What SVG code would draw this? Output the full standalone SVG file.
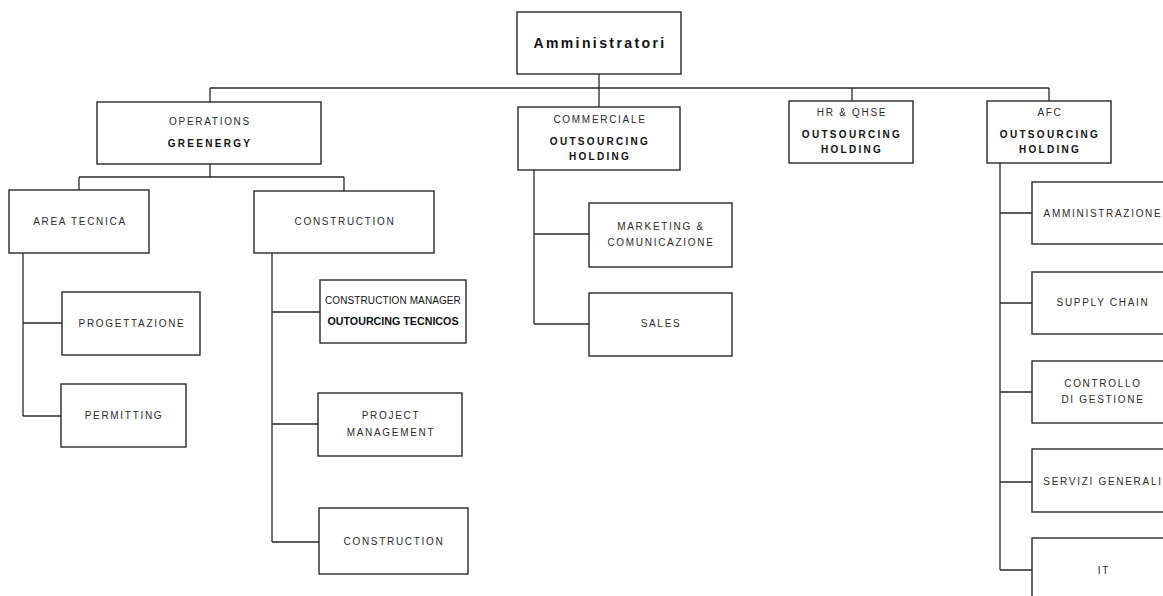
<svg xmlns="http://www.w3.org/2000/svg" width="1163" height="596" viewBox="0 0 1163 596">
<style>
.b{fill:#fff;stroke:#2a2a2a;stroke-width:1.4}
.c{fill:none;stroke:#2a2a2a;stroke-width:1.3}
text{font-family:"Liberation Sans",Arial,sans-serif;text-anchor:middle;fill:#2b2b2b}
.r{font-size:10px;letter-spacing:1.7px}
.k{font-size:10px;font-weight:bold;letter-spacing:2.3px;fill:#111}
.t{font-size:14px;font-weight:bold;letter-spacing:2.4px;fill:#111}
.p{font-size:10px;letter-spacing:0.1px;fill:#111}
.pk{font-size:10.7px;font-weight:bold;fill:#111}
</style>
<rect width="1163" height="596" fill="#fff"/>
<g id="connectors">
<path class="c" d="M210 88H1049M599 74V107M210 88V102M852 88V101M1049 88V101"/>
<path class="c" d="M210 164V177M79 177H344M79 177V190M344 177V191"/>
<path class="c" d="M23 253V416M23 323H62M23 416H61"/>
<path class="c" d="M272 253V542M272 312H320M272 424H318M272 542H319"/>
<path class="c" d="M534 170V324M534 234H589M534 324H589"/>
<path class="c" d="M1000 163V570M1000 213H1032M1000 303H1032M1000 392H1032M1000 482H1032M1000 570H1032"/>
</g>
<g id="amministratori"><rect class="b" x="517" y="12" width="164" height="62"/><text class="t" x="600" y="48">Amministratori</text></g>
<g id="operations"><rect class="b" x="97" y="102" width="224" height="62"/><text class="r" x="210" y="125">OPERATIONS</text><text class="k" x="210" y="147">GREENERGY</text></g>
<g id="commerciale"><rect class="b" x="518" y="107" width="162" height="63"/><text class="r" x="600" y="123">COMMERCIALE</text><text class="k" x="600" y="145">OUTSOURCING</text><text class="k" x="600" y="160">HOLDING</text></g>
<g id="hr"><rect class="b" x="789" y="101" width="124" height="62"/><text class="r" x="852" y="116">HR &amp; QHSE</text><text class="k" x="852" y="138">OUTSOURCING</text><text class="k" x="852" y="153">HOLDING</text></g>
<g id="afc"><rect class="b" x="987" y="101" width="124" height="62"/><text class="r" x="1050" y="116">AFC</text><text class="k" x="1050" y="138">OUTSOURCING</text><text class="k" x="1050" y="153">HOLDING</text></g>
<g id="area-tecnica"><rect class="b" x="9" y="190" width="140" height="63"/><text class="r" x="80" y="225">AREA TECNICA</text></g>
<g id="construction"><rect class="b" x="254" y="191" width="180" height="62"/><text class="r" x="345" y="225">CONSTRUCTION</text></g>
<g id="progettazione"><rect class="b" x="62" y="292" width="138" height="63"/><text class="r" x="132" y="327">PROGETTAZIONE</text></g>
<g id="permitting"><rect class="b" x="61" y="384" width="125" height="63"/><text class="r" x="124" y="419">PERMITTING</text></g>
<g id="construction-manager"><rect class="b" x="320" y="280" width="146" height="63"/><text class="p" x="393" y="304">CONSTRUCTION MANAGER</text><text class="pk" x="393" y="325">OUTOURCING TECNICOS</text></g>
<g id="project-management"><rect class="b" x="318" y="393" width="144" height="63"/><text class="r" x="391" y="419">PROJECT</text><text class="r" x="391" y="436">MANAGEMENT</text></g>
<g id="construction-2"><rect class="b" x="319" y="508" width="149" height="66"/><text class="r" x="394" y="545">CONSTRUCTION</text></g>
<g id="marketing"><rect class="b" x="589" y="203" width="143" height="64"/><text class="r" x="661" y="230">MARKETING &amp;</text><text class="r" x="661" y="246">COMUNICAZIONE</text></g>
<g id="sales"><rect class="b" x="589" y="293" width="143" height="63"/><text class="r" x="661" y="327">SALES</text></g>
<g id="amministrazione"><rect class="b" x="1032" y="182" width="145" height="62"/><text class="r" x="1103" y="217">AMMINISTRAZIONE</text></g>
<g id="supply-chain"><rect class="b" x="1032" y="272" width="145" height="62"/><text class="r" x="1103" y="306">SUPPLY CHAIN</text></g>
<g id="controllo"><rect class="b" x="1032" y="361" width="145" height="62"/><text class="r" x="1103" y="387">CONTROLLO</text><text class="r" x="1103" y="403">DI GESTIONE</text></g>
<g id="servizi"><rect class="b" x="1032" y="449" width="145" height="63"/><text class="r" x="1103" y="485">SERVIZI GENERALI</text></g>
<g id="it"><rect class="b" x="1032" y="538" width="145" height="70"/><text class="r" x="1104" y="574">IT</text></g>
</svg>
